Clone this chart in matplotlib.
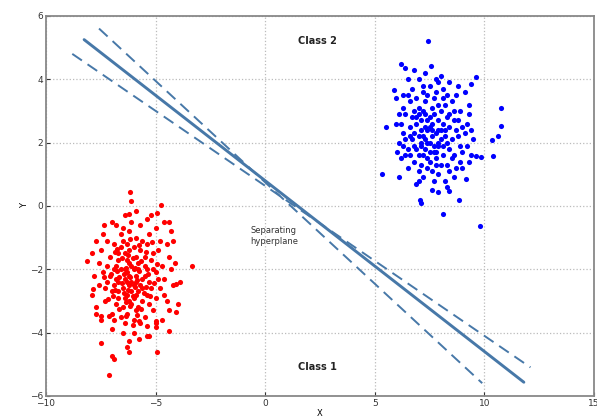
import numpy as np
import matplotlib
matplotlib.use("Agg")
import matplotlib.pyplot as plt

# class 1 (red) points
red_x = [-6.18, -6.13, -4.73, -4.92, -5.9, -6.21, -7.35, -6.97, -5.37, -4.38, -7.88, -8.11, -3.32,
         -7.84, -4.08, -7.73, -7.5, -7.12, -6.36, -5.75, -4.99, -4.99, -4.08, -4.38, -7.5, -6.21,
         -5.75, -5.37, -6.29, -6.21, -6.97, -6.89, -4.95, -7.12,
         -6.3, -6.1, -5.9, -6.5, -6.2, -5.7, -6.8, -6.0, -6.4, -5.5, -6.6, -5.8, -6.1, -7.0, -5.3,
         -6.3, -5.9, -6.7, -5.6, -6.2, -6.9, -5.4, -6.5, -6.0, -7.2, -5.2, -6.4, -5.8, -6.7, -6.1,
         -5.5, -7.1, -6.3, -5.9, -6.8, -5.0, -6.6, -7.4, -5.7, -6.0, -6.2, -6.4, -5.6, -6.9, -5.3,
         -6.5, -5.4, -7.3, -4.8, -6.0, -6.6, -5.1, -7.6, -4.7, -5.9, -6.9, -6.2, -5.3, -4.9, -7.0,
         -5.5, -6.3, -5.8, -6.7, -6.1, -5.6, -6.4, -5.9, -6.8, -5.2, -7.2, -4.6, -6.5, -5.7, -7.5,
         -4.5, -7.7, -4.4, -6.0, -5.4, -4.6, -7.8, -4.3, -7.4, -6.6, -5.0, -4.8, -7.9, -5.1, -6.7,
         -5.5, -6.2, -6.4, -5.8, -7.1, -5.0, -6.9, -4.5, -4.2, -4.4, -7.6, -6.1, -5.6, -6.3, -5.1,
         -4.9, -7.3, -6.8, -4.1, -4.0, -7.0, -5.3, -4.7, -6.5, -5.9, -6.0, -6.3, -6.7, -5.4, -6.2,
         -5.7, -4.2, -7.5, -4.6, -7.2, -5.0, -4.3, -6.4, -5.2, -7.7, -3.9,
         -6.15, -5.95, -6.45, -6.05, -5.75, -6.55, -6.25, -5.85, -6.35, -6.65, -5.65, -6.15, -5.45,
         -6.75, -6.05, -5.95, -6.85, -5.35, -6.45, -6.25, -5.55, -6.95, -5.75, -6.55, -6.35, -5.25,
         -7.05, -5.85, -6.65, -5.45, -6.15, -7.15, -5.05, -6.75, -5.65, -4.95, -7.35, -6.05, -5.15,
         -6.85]
red_y = [0.43, 0.14, 0.03, -0.23, -0.17, -0.25, -0.6, -0.52, -0.41, -0.5, -1.49, -1.73, -1.89,
         -2.63, -2.47, -3.42, -3.47, -3.47, -3.47, -3.63, -3.63, -3.84, -3.36, -3.95, -4.34, -4.26,
         -4.19, -4.1, -4.47, -4.63, -4.74, -4.84, -4.63, -5.35,
         -2.1, -2.4, -2.2, -2.6, -1.8, -2.5, -2.3, -2.9, -1.5, -1.9, -2.0, -2.7, -3.1, -2.7, -2.4,
         -2.8, -1.6, -1.7, -3.0, -2.5, -2.0, -2.8, -3.2, -1.3, -2.4, -1.7, -2.3, -2.0, -2.9, -1.9,
         -2.2, -1.6, -3.4, -3.3, -3.1, -2.1, -1.3, -2.1, -1.4, -2.0, -2.2, -2.0, -2.6, -2.5, -3.1,
         -1.1, -1.2, -3.0, -2.6, -3.6, -3.5, -3.3, -2.5, -1.9, -1.0, -1.2, -0.8, -0.9, -1.4, -3.4,
         -3.5, -1.7, -1.8, -2.4, -2.7, -2.3, -2.9, -2.4, -1.9, -2.6, -1.9, -2.3, -0.7, -0.6, -1.4,
         -3.0, -3.2, -1.6, -4.0, -3.8, -2.8, -2.2, -2.0, -0.9, -0.9, -0.7, -1.1, -2.8, -1.5, -1.5,
         -1.6, -3.0, -3.7, -3.2, -2.2, -2.9, -3.6, -1.2, -2.5, -3.3, -1.8, -0.5, -1.1, -1.2, -2.0,
         -2.3, -2.6, -0.6, -1.8, -3.1, -3.9, -4.1, -3.6, -4.0, -2.8, -2.5, -2.4, -2.7, -2.0, -1.4,
         -3.7, -1.1, -3.6, -0.5, -1.1, -3.7, -0.8, -0.3, -0.3, -1.1, -2.4,
         -2.25, -2.55, -2.15, -1.65, -2.05, -2.45, -2.65, -2.35, -1.95, -2.25, -1.75, -3.15, -2.55,
         -2.05, -2.85, -1.95, -2.65, -2.15, -2.75, -1.55, -2.75, -2.85, -1.25, -1.65, -3.05, -2.85,
         -2.15, -3.45, -3.25, -1.45, -1.05, -2.95, -2.45, -1.35, -3.25, -1.85, -2.25, -3.75, -1.15,
         -1.45]

# class 2 (blue) points
blue_x = [7.41, 6.2, 6.39, 6.77, 7.57, 9.62, 9.39, 5.89, 5.97, 6.27, 10.76, 10.76, 5.51, 5.97,
          10.61, 10.34, 10.38, 5.33, 6.12, 6.88, 7.87, 8.4, 7.08, 7.11, 8.83, 8.13, 9.82, 9.85,
          9.62, 9.32, 9.16,
          7.6, 7.3, 7.9, 7.1, 8.2, 7.5, 7.8, 6.9, 8.4, 7.2, 8.0, 6.7, 8.6, 7.4, 7.0, 8.8, 6.5, 7.7,
          8.3, 6.8, 9.0, 7.2, 6.4, 8.5, 7.9, 6.6, 9.2, 7.5, 8.1, 6.3, 8.9, 7.0, 9.3, 6.2, 8.7, 7.6,
          7.8, 7.4, 8.0, 7.1, 8.3, 6.9, 7.7, 8.6, 7.3, 6.6, 8.1, 7.5, 8.4, 7.0, 7.9, 6.8, 8.7, 7.3,
          6.5, 9.1, 7.2, 8.2, 6.1, 9.4, 7.8, 8.4, 6.7, 8.9, 7.6, 6.4, 9.5, 7.0, 8.0, 6.3, 7.4, 7.9,
          7.5, 8.1, 7.2, 7.7, 7.3, 8.5, 6.8, 8.3, 6.9, 7.6, 8.6, 7.1, 7.8, 8.8, 6.6, 7.4, 8.2, 6.2,
          9.0, 7.1, 8.4, 6.0, 9.3, 7.7, 6.5, 8.0, 9.1, 7.3, 6.4, 8.6, 7.5, 7.9, 8.1, 7.0, 8.7, 6.7,
          7.4, 8.3, 7.8, 6.9, 7.2, 8.5, 7.6, 8.0, 7.3, 7.9, 7.5, 7.1, 8.2, 6.8, 7.7, 8.4, 6.6, 9.2,
          7.0, 8.9, 7.8, 7.4, 8.1, 6.3, 9.4, 7.2, 8.8, 6.1, 7.6, 8.3, 7.9, 6.5, 9.0, 7.0]
blue_y = [5.2, 4.47, 4.36, 4.28, 4.42, 4.07, 3.86, 3.65, 3.42, 3.49, 3.1, 2.51, 2.49, 2.57,
          2.2, 2.09, 1.57, 1.01, 0.91, 0.7, 0.45, 0.48, 0.2, 0.09, 0.17, -0.27, -0.65, 1.54,
          1.59, 1.38, 0.85,
          2.2, 2.5, 1.9, 2.0, 2.4, 2.8, 1.5, 2.6, 1.8, 1.6, 3.0, 2.1, 2.7, 1.2, 3.1, 2.2, 1.8, 3.4,
          1.3, 1.4, 2.5, 3.6, 2.9, 3.3, 1.0, 3.3, 1.9, 3.8, 3.7, 2.3, 3.0, 1.1, 2.9, 1.5, 1.2, 2.6,
          2.3, 2.0, 2.1, 2.4, 2.8, 1.8, 1.7, 1.6, 2.9, 2.5, 1.6, 1.4, 2.5, 2.2, 2.7, 3.0, 3.5, 3.3,
          1.2, 2.3, 0.9, 0.8, 2.0, 1.6, 4.0, 3.9, 3.7, 1.4, 1.1, 1.6, 2.1, 4.0, 1.3, 3.1, 2.4, 2.4,
          2.0, 2.6, 2.2, 1.9, 1.8, 2.1, 2.3, 2.0, 2.8, 3.1, 3.0, 2.7, 3.6, 2.7, 1.6, 3.5, 3.2, 2.6,
          1.7, 1.3, 1.1, 1.7, 3.2, 0.8, 3.5, 4.1, 3.6, 4.2, 2.1, 0.9, 1.7, 3.2, 1.9, 1.6, 2.4, 2.8,
          2.7, 3.5, 1.3, 3.4, 3.0, 1.5, 2.4, 2.4, 2.1, 2.0, 2.5, 1.9, 2.2, 1.9, 2.9, 2.9, 2.2, 2.6,
          2.9, 1.9, 1.7, 1.5, 3.4, 1.9, 2.4, 3.8, 3.8, 2.9, 0.5, 0.6, 3.9, 4.0, 1.2, 0.8]

# hyperplane and the two margin lines (end points) - the margins cross near the middle
hyper_x = [-8.26, 11.8]
hyper_y = [5.25, -5.57]
steep_x = [-7.58, 9.9]
steep_y = [5.6, -5.6]
flat_x = [-8.8, 12.1]
flat_y = [4.8, -5.1]

line_col = '#4778a8'

fig = plt.figure(figsize=(5.97, 4.18), dpi=100)
ax = fig.add_axes([0.077, 0.053, 0.918, 0.909])

ax.plot(red_x, red_y, 'o', color='red', markersize=3.7, markeredgewidth=0, zorder=3)
ax.plot(blue_x, blue_y, 'o', color='blue', markersize=3.7, markeredgewidth=0, zorder=3)

ax.plot(hyper_x, hyper_y, '-', color=line_col, linewidth=2.1, solid_capstyle='round')
ax.plot(steep_x, steep_y, '--', color=line_col, linewidth=1.4, dashes=(6, 3.5))
ax.plot(flat_x, flat_y, '--', color=line_col, linewidth=1.4, dashes=(6, 3.5))

ax.text(2.4, 5.2, 'Class 2', fontsize=7, fontweight='bold', ha='center', va='center', color='#222222')
ax.text(2.4, -5.1, 'Class 1', fontsize=7, fontweight='bold', ha='center', va='center', color='#222222')
ax.text(0.4, -0.95, 'Separating\nhyperplane', fontsize=6, ha='center', va='center', color='#333333',
        linespacing=1.3)

ax.set_xlim(-10, 15)
ax.set_ylim(-6, 6)
ax.set_xticks(np.arange(-10, 16, 5))
ax.set_yticks(np.arange(-6, 7, 2))
ax.tick_params(labelsize=6.5, length=3, direction='in', colors='#333333', pad=2)
ax.set_xlabel('X', fontsize=6, labelpad=1)
ax.set_ylabel('Y', fontsize=6, labelpad=1)
ax.grid(True, linestyle=':', color='#bbbbbb', linewidth=0.9)
for s in ax.spines.values():
    s.set_color('#888888')
    s.set_linewidth(1.3)

fig.savefig('out.png', dpi=100)
